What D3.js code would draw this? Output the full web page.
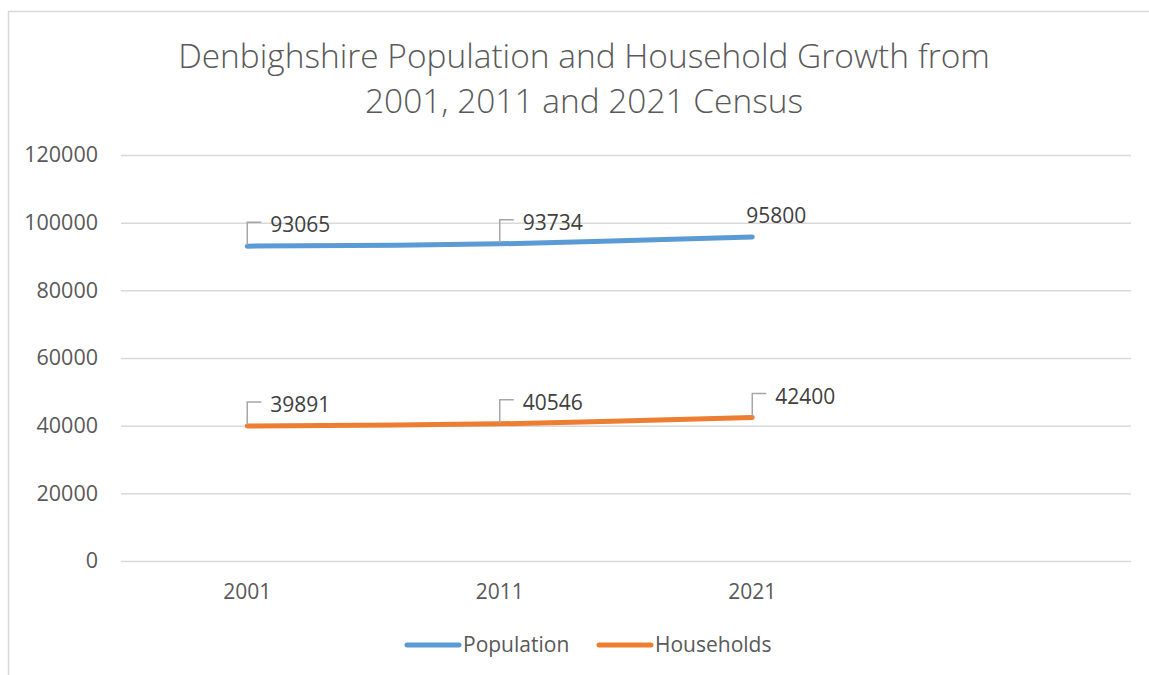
<!DOCTYPE html>
<html>
<head>
<meta charset="utf-8">
<script src="https://cdn.jsdelivr.net/npm/d3@7"></script>
<style>
  body { margin: 0; background: #fff; }
  svg { display: block; font-family: "Open Sans", "Noto Sans", sans-serif; }
</style>
</head>
<body>
<svg></svg>
<script>
// chart data
var categories = ["2001", "2011", "2021", ""]
var population = [93065, 93734, 95800]
var households = [39891, 40546, 42400]
var yTicks = [0, 20000, 40000, 60000, 80000, 100000, 120000]
var seriesNames = ["Population", "Households"]
var titleLines = ["Denbighshire Population and Household Growth from", "2001, 2011 and 2021 Census"]

var screen = {width: 1149, height: 675}
var plot = {left: 121, right: 1131, top: 155, bottom: 561}
var colors = ["#5B9BD5", "#ED7D31"]
var textColor = "#595959"

var svg = d3.select("svg")
  .attr("width", screen.width)
  .attr("height", screen.height)

// chart area border
svg.append("rect")
  .attr("x", 8.5).attr("y", 11.5)
  .attr("width", 1160).attr("height", 700)
  .attr("fill", "white")
  .attr("stroke", "#d9d9d9")
  .attr("stroke-width", 1.5)

// title, fitted to the width of the original first line
var title = svg.append("text")
  .attr("text-anchor", "middle")
  .attr("fill", textColor)
  .attr("font-weight", 300)
  .attr("font-size", 30)
title.selectAll("tspan")
  .data(titleLines)
  .enter()
  .append("tspan")
  .attr("x", 584)
  .attr("y", function(d, i){ return 68 + i * 45 })
  .text(function(d){ return d })
var firstW = title.select("tspan").node().getComputedTextLength()
title.attr("font-size", 30 * 812 / firstW)

var x = d3.scaleBand()
  .domain(categories)
  .range([plot.left, plot.right])

var y = d3.scaleLinear()
  .domain([0, 120000])
  .range([plot.bottom, plot.top])

var cx = function(i){ return x(categories[i]) + x.bandwidth() / 2 }

// gridlines + y labels
var yAxis = svg.append("g")
  .attr("transform", "translate(" + plot.left + ",0)")
  .call(d3.axisLeft(y).tickValues(yTicks).tickFormat(d3.format("d"))
    .tickSize(-(plot.right - plot.left)).tickPadding(23))
yAxis.select(".domain").remove()
yAxis.selectAll("line").attr("stroke", "#d9d9d9").attr("stroke-width", 1.5)
yAxis.selectAll("text")
  .attr("fill", textColor)
  .attr("font-size", 21.5)
  .attr("font-family", "Open Sans")

// x labels
var xAxis = svg.append("g")
  .attr("transform", "translate(0," + plot.bottom + ")")
  .call(d3.axisBottom(x).tickSize(0).tickPadding(23))
xAxis.select(".domain").remove()
xAxis.selectAll("text")
  .attr("fill", textColor)
  .attr("font-size", 21)
  .attr("font-family", "Open Sans")

var line = d3.line()
  .x(function(d, i){ return cx(i) })
  .y(function(d){ return y(d) })
  .curve(d3.curveCatmullRom)

var allSeries = [population, households]

allSeries.forEach(function(values, s){
  svg.append("path")
    .datum(values)
    .attr("fill", "none")
    .attr("stroke", colors[s])
    .attr("stroke-width", 5)
    .attr("stroke-linecap", "round")
    .attr("d", line)

  var lab = svg.append("g")
  values.forEach(function(v, i){
    var px = cx(i), py = y(v)
    // the last population label sits above the point without a leader
    var noLeader = (s == 0 && i == values.length - 1)
    if (noLeader) {
      lab.append("text")
        .attr("x", px + 24)
        .attr("y", py - 14)
        .attr("text-anchor", "middle")
        .attr("fill", "#404040")
        .attr("font-size", 21)
        .text(v)
    } else {
      lab.append("path")
        .attr("d", "M" + px + "," + (py - 1) + "V" + (py - 24) + "H" + (px + 14))
        .attr("fill", "none")
        .attr("stroke", "#a6a6a6")
        .attr("stroke-width", 1.5)
      lab.append("text")
        .attr("x", px + 23)
        .attr("y", py - 14)
        .attr("fill", "#404040")
        .attr("font-size", 21)
        .text(v)
    }
  })
})

// legend
var legend = svg.append("g")
var legendX = [405, 597]
seriesNames.forEach(function(name, i){
  legend.append("line")
    .attr("x1", legendX[i] + 2).attr("x2", legendX[i] + 54)
    .attr("y1", 645).attr("y2", 645)
    .attr("stroke", colors[i])
    .attr("stroke-width", 5)
    .attr("stroke-linecap", "round")
  legend.append("text")
    .attr("x", legendX[i] + 58)
    .attr("y", 652)
    .attr("fill", textColor)
    .attr("font-size", 21)
    .text(name)
})
</script>
</body>
</html>
